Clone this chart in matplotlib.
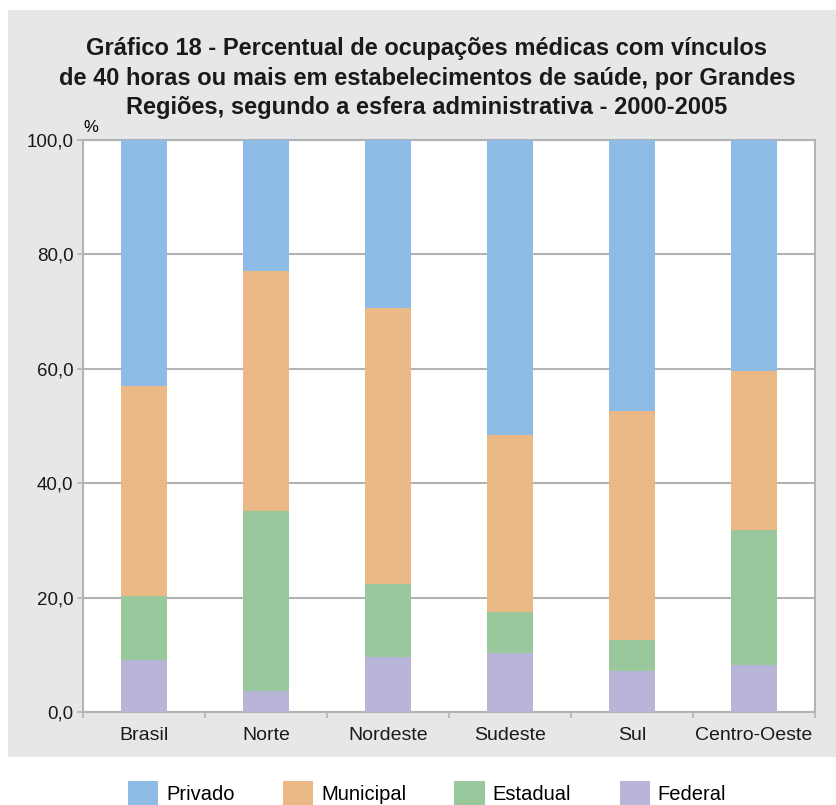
import numpy as np
import matplotlib
matplotlib.use('Agg')
import matplotlib.pyplot as plt
from matplotlib.patches import Rectangle, Patch
from matplotlib.ticker import FixedLocator, FuncFormatter

# Data (percent of medical jobs, stacked to 100)
regions = ['Brasil', 'Norte', 'Nordeste', 'Sudeste', 'Sul', 'Centro-Oeste']
federal = [9.1, 3.7, 9.6, 10.3, 7.2, 8.2]
estadual = [11.2, 31.4, 12.8, 7.2, 5.4, 23.6]
municipal = [36.7, 42.0, 48.2, 30.9, 40.0, 27.8]
privado = [43.0, 22.9, 29.4, 51.6, 47.4, 40.4]

series = [('Federal', federal, '#b9b5d8'),
          ('Estadual', estadual, '#99c89c'),
          ('Municipal', municipal, '#ebb985'),
          ('Privado', privado, '#8fbce6')]

plt.rcParams['font.family'] = ['Liberation Sans', 'DejaVu Sans']

fig = plt.figure(figsize=(8.37, 8.05), dpi=100)

# gray panel behind the chart
fig.patches.append(Rectangle((8 / 837, 1 - 757 / 805), 1 - 8 / 837, (757 - 10) / 805,
                             transform=fig.transFigure, facecolor='#e6e7e8',
                             edgecolor='none', zorder=-5))

ax = fig.add_axes([83 / 837, 1 - 712 / 805, (815 - 83) / 837, (712 - 140) / 805])
ax.set_facecolor('white')

x = np.arange(len(regions))
bottom = np.zeros(len(regions))
for name, vals, color in series:
    ax.bar(x, vals, width=0.385, bottom=bottom, color=color, label=name, zorder=3)
    bottom += np.array(vals)

ax.set_xlim(-0.5, len(regions) - 0.5)
ax.set_ylim(0, 100)
ax.set_yticks(np.arange(0, 101, 20))
ax.yaxis.set_major_formatter(FuncFormatter(lambda v, p: f'{v:.1f}'.replace('.', ',')))
ax.yaxis.grid(True, color='#b3b3b3', linewidth=1.5, zorder=0)
ax.set_axisbelow(True)

ax.set_xticks(x)
ax.set_xticklabels(regions)
ax.xaxis.set_minor_locator(FixedLocator(np.arange(-0.5, len(regions), 1.0)))
ax.tick_params(axis='x', which='major', length=0, pad=11, labelsize=14, colors='#1a1a1a')
ax.tick_params(axis='x', which='minor', length=4, width=1.2, color='#b3b3b3')
ax.tick_params(axis='y', length=4, width=1.2, color='#b3b3b3', pad=3,
               labelsize=13.5, labelcolor='#1a1a1a')

for s in ax.spines.values():
    s.set_color('#b3b3b3')
    s.set_linewidth(1.5)

ax.text(0.0, 1.008, '%', transform=ax.transAxes, fontsize=12, ha='left', va='bottom')

fig.text(0.51, 1 - 78 / 805,
         'Gráfico 18 - Percentual de ocupações médicas com vínculos\n'
         'de 40 horas ou mais em estabelecimentos de saúde, por Grandes\n'
         'Regiões, segundo a esfera administrativa - 2000-2005',
         ha='center', va='center', fontsize=17, fontweight='bold',
         linespacing=1.38, color='#1a1a1a')

handles = [Patch(facecolor=c, label=n) for n, _, c in reversed(series)]
fig.legend(handles=handles, loc='center', bbox_to_anchor=(427 / 837, 1 - 793 / 805),
           ncol=4, frameon=False, fontsize=14.5, handlelength=1.5, handleheight=1.5,
           handletextpad=0.4, columnspacing=2.4, borderaxespad=0, borderpad=0)

fig.savefig('out.png', dpi=100, facecolor='white')
